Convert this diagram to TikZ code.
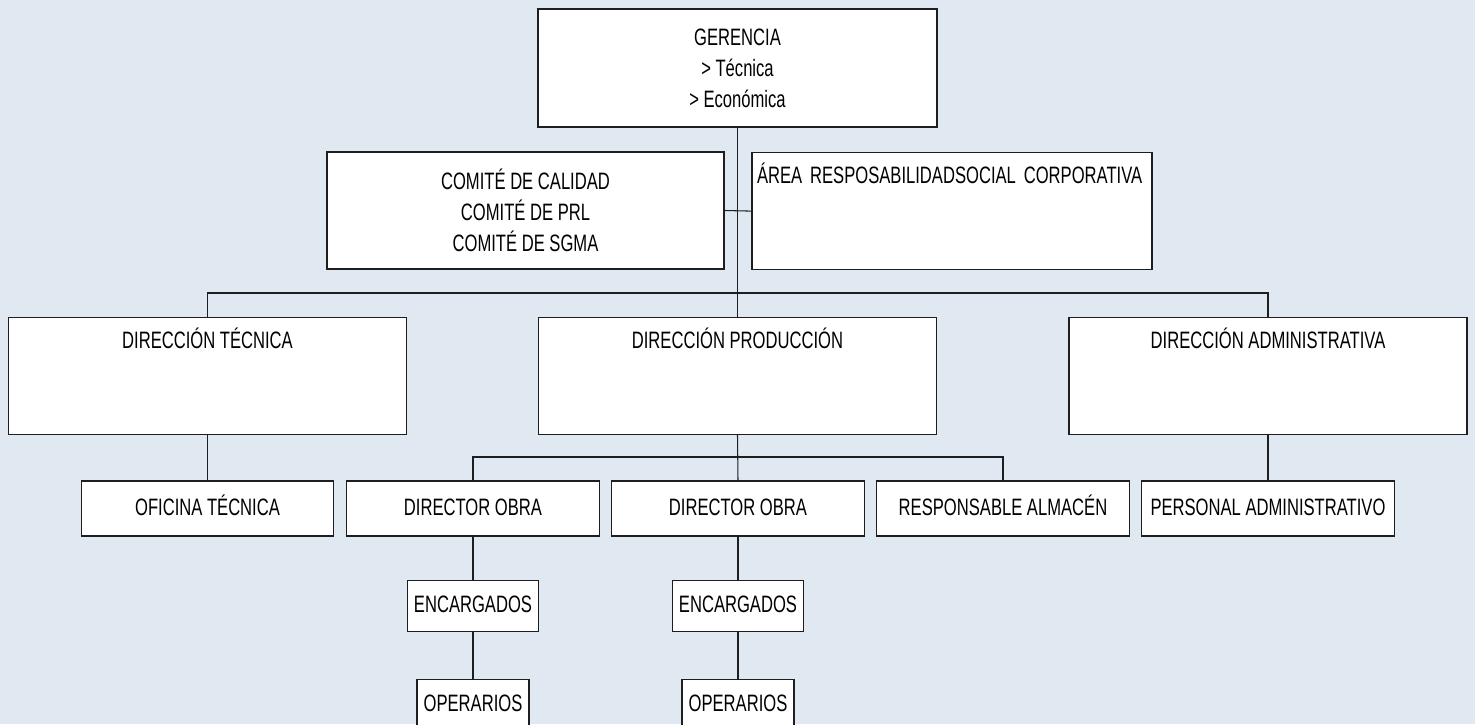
\documentclass[tikz,border=0pt]{standalone}
\usepackage{fontspec}
\setmainfont{Liberation Sans}[FakeStretch=0.7]
\usetikzlibrary{positioning}

\definecolor{fondo}{RGB}{224,233,241}
\definecolor{linea}{RGB}{30,30,30}

\begin{document}
\begin{tikzpicture}[
        x=0.02cm, y=-0.02cm,
        node distance=0.9cm,
        every node/.style={font=\fontsize{13.5}{17.6}\selectfont},
        box/.style={draw=linea, fill=white, line width=0.7pt, align=center, inner xsep=2pt},
        bigbox/.style={box, anchor=north, minimum width=7.96cm, text height=0.42cm, text depth=1.52cm, inner ysep=0.2cm},
        small/.style={box, minimum width=5.05cm, minimum height=1.1cm, text height=1.8ex, text depth=0.4ex},
        tiny/.style={box, minimum height=1.02cm, text height=1.8ex, text depth=0.4ex},
        line/.style={draw=linea, line width=0.6pt}
        ]

        % Background
        \fill[fondo] (0,0) rectangle (1475,724);
        \useasboundingbox (0,0) rectangle (1475,724);
        \clip (0,0) rectangle (1475,724);

        % Top blocks
        \node (gerencia) [box, minimum width=7.98cm, minimum height=2.36cm] at (737.5,68) {GERENCIA \\ > Técnica \\ > Económica};

        \node (comite) [box, minimum width=7.94cm, minimum height=2.34cm] at (525.5,210.5) {COMITÉ DE CALIDAD \\ COMITÉ DE PRL \\ COMITÉ DE SGMA};
        \node (area) [box, anchor=north, text width=7.8cm, align=left, inner xsep=0.1cm, text height=0.42cm, text depth=1.52cm, inner ysep=0.2cm] at (952,152) {\mbox{ÁREA RESPOSABILIDADSOCIAL CORPORATIVA}};

        % Direcciones
        \node (dirtec) [bigbox] at (207.5,317) {DIRECCIÓN TÉCNICA};
        \node (dirprod) [bigbox] at (737.5,317) {DIRECCIÓN PRODUCCIÓN};
        \node (diradm) [bigbox] at (1268,317) {DIRECCIÓN ADMINISTRATIVA};

        % Second level
        \node (oficina) [small] at (207.5,508.5) {OFICINA TÉCNICA};
        \node (obra1) [small] at (473,508.5) {DIRECTOR OBRA};
        \node (obra2) [small] at (738,508.5) {DIRECTOR OBRA};
        \node (almacen) [small] at (1003,508.5) {RESPONSABLE ALMACÉN};
        \node (personal) [small] at (1268,508.5) {PERSONAL ADMINISTRATIVO};

        % Obras
        \node (enc1) [tiny, minimum width=2.62cm, below=0.86cm of obra1] {ENCARGADOS};
        \node (oper1) [tiny, minimum width=2.24cm, below=0.94cm of enc1] {OPERARIOS};
        \node (enc2) [tiny, minimum width=2.62cm, below=0.86cm of obra2] {ENCARGADOS};
        \node (oper2) [tiny, minimum width=2.24cm, below=0.94cm of enc2] {OPERARIOS};

        % Lines
        \coordinate (bus) at (737.5,293);
        \coordinate (subbus) at (738,457);

        \draw [line] (gerencia.south) -- (dirprod.north);
        \draw [line] (comite.east) -- (area.west);
        \draw [line] (dirtec.north) |- (bus) -| (diradm.north);
        \draw [line] (dirtec.south) -- (oficina.north);
        \draw [line] (diradm.south) -- (personal.north);
        \draw [line] (dirprod.south) -- (obra2.north);
        \draw [line] (obra1.north) |- (subbus) -| (almacen.north);
        \draw [line] (obra1) -- (enc1);
        \draw [line] (enc1) -- (oper1);
        \draw [line] (obra2) -- (enc2);
        \draw [line] (enc2) -- (oper2);
    \end{tikzpicture}
\end{document}
